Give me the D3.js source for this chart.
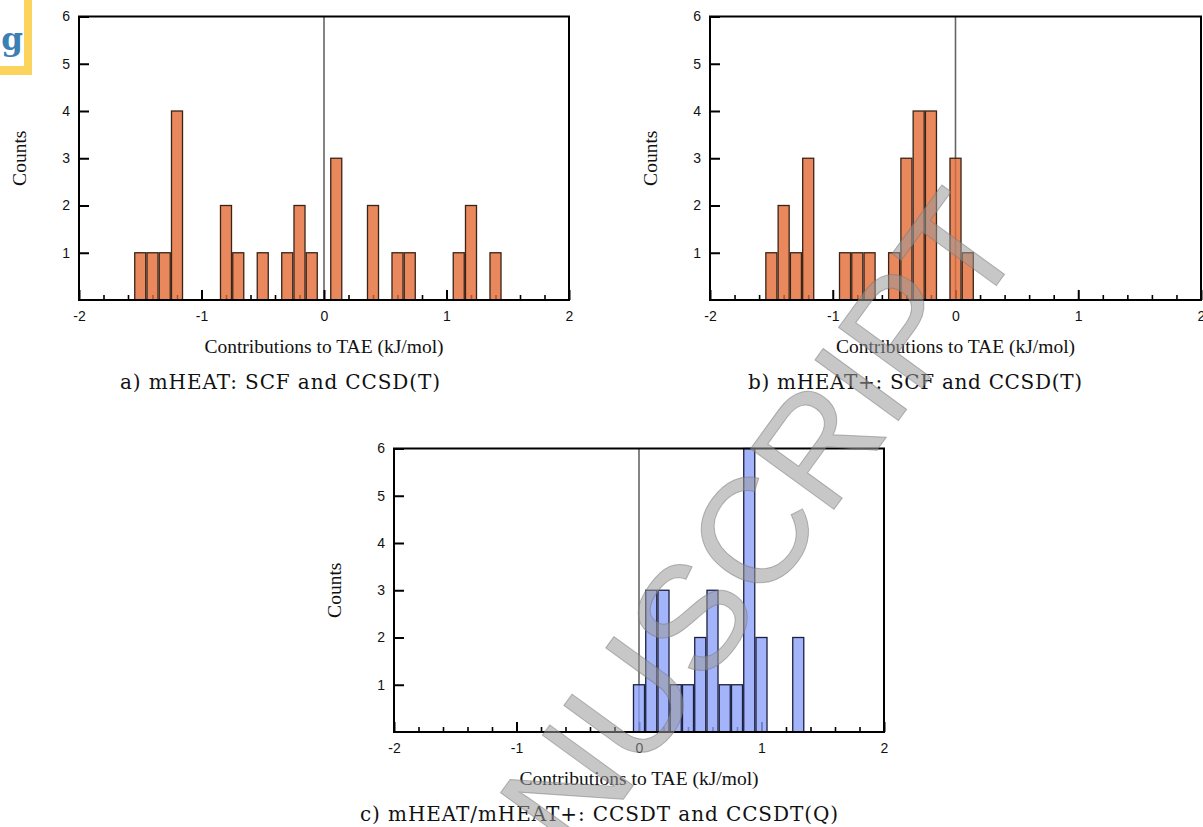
<!DOCTYPE html>
<html>
<head>
<meta charset="utf-8">
<script src="https://cdnjs.cloudflare.com/ajax/libs/d3/7.8.5/d3.min.js"></script>
<style>
  body { margin: 0; background: #fff; }
  .tick-label { font-family: "Liberation Sans", Arial, sans-serif; font-size: 14px; fill: #111; }
  .label { font-family: "Liberation Serif", "Times New Roman", serif; font-size: 19.5px; fill: #111; }
  .caption { font-family: "DejaVu Serif", serif; font-size: 20px; fill: #111; }
</style>
</head>
<body>
<svg width="1203" height="827"></svg>
<script>
// bin centres (kJ/mol) and counts
var binsA = [-1.5, -1.4, -1.3, -1.2, -0.8, -0.7, -0.5, -0.3, -0.2, -0.1, 0.1, 0.4, 0.6, 0.7, 1.1, 1.2, 1.4];
var countsA = [1, 1, 1, 4, 2, 1, 1, 1, 2, 1, 3, 2, 1, 1, 1, 2, 1];

var binsB = [-1.5, -1.4, -1.3, -1.2, -0.9, -0.8, -0.7, -0.5, -0.4, -0.3, -0.2, 0.0, 0.1];
var countsB = [1, 2, 1, 3, 1, 1, 1, 1, 3, 4, 4, 3, 1];

var binsC = [0.0, 0.1, 0.2, 0.3, 0.4, 0.5, 0.6, 0.7, 0.8, 0.9, 1.0, 1.3];
var countsC = [1, 3, 3, 1, 1, 2, 3, 1, 1, 6, 2, 2];

var xTicks = [-2, -1, 0, 1, 2];
var xMinor = [-1.8, -1.6, -1.4, -1.2, -0.8, -0.6, -0.4, -0.2, 0.2, 0.4, 0.6, 0.8, 1.2, 1.4, 1.6, 1.8];
var yTicks = [1, 2, 3, 4, 5, 6];

var binWidth = 0.09;
var fmt = d => String(d);   // plain hyphen minus, like the original

var svg = d3.select('svg');

function drawPanel(p) {
  var x = d3.scaleLinear().domain([-2, 2]).range([p.x0, p.x1]);
  var y = d3.scaleLinear().domain([0, 6]).range([p.y1, p.y0]);
  var g = svg.append('g');

  // zero line
  g.append('line')
    .attr('x1', x(0)).attr('x2', x(0))
    .attr('y1', y(6)).attr('y2', y(0))
    .attr('stroke', '#666').attr('stroke-width', 1.6);

  // ticks along the bottom and left, pointing inward
  g.append('g')
    .attr('transform', `translate(0, ${y(0)})`)
    .call(d3.axisBottom(x).tickValues(xMinor).tickSize(-5).tickFormat(''))
    .call(a => a.select('.domain').remove())
    .selectAll('line').attr('stroke', '#000').attr('stroke-width', 1.6);

  g.append('g')
    .attr('transform', `translate(0, ${y(0)})`)
    .call(d3.axisBottom(x).tickValues(xTicks).tickSize(-10).tickPadding(11).tickFormat(fmt))
    .call(a => a.select('.domain').remove())
    .call(a => a.selectAll('line').attr('stroke', '#000').attr('stroke-width', 2))
    .call(a => a.selectAll('text').attr('class', 'tick-label'));

  g.append('g')
    .attr('transform', `translate(${x(-2)}, 0)`)
    .call(d3.axisLeft(y).tickValues(yTicks).tickSize(-10).tickPadding(9).tickFormat(fmt))
    .call(a => a.select('.domain').remove())
    .call(a => a.selectAll('line').attr('stroke', '#000').attr('stroke-width', 2))
    .call(a => a.selectAll('text').attr('class', 'tick-label'));

  // bars
  g.selectAll('.bar')
    .data(p.bins.map((b, i) => ({ b: b, c: p.counts[i] })))
    .enter()
    .append('rect')
    .attr('class', 'bar')
    .attr('x', d => x(d.b - binWidth / 2))
    .attr('width', d => x(d.b + binWidth / 2) - x(d.b - binWidth / 2))
    .attr('y', d => y(d.c))
    .attr('height', d => y(0) - y(d.c))
    .attr('fill', p.fill)
    .attr('fill-opacity', 0.8)
    .attr('stroke', p.stroke)
    .attr('stroke-width', 1.3);

  // frame
  g.append('rect')
    .attr('x', x(-2)).attr('y', y(6))
    .attr('width', x(2) - x(-2)).attr('height', y(0) - y(6))
    .attr('fill', 'none').attr('stroke', '#000').attr('stroke-width', 2);

  g.append('text')
    .attr('class', 'label')
    .attr('transform', `translate(${p.x0 - 60}, ${(p.y0 + p.y1) / 2}) rotate(-90)`)
    .attr('text-anchor', 'middle')
    .attr('dy', '0.35em')
    .text('Counts');

  g.append('text')
    .attr('class', 'label')
    .attr('x', x(0))
    .attr('y', p.y1 + 53)
    .attr('text-anchor', 'middle')
    .text('Contributions to TAE (kJ/mol)');

  g.append('text')
    .attr('class', 'caption')
    .attr('x', p.capX)
    .attr('y', p.y1 + 89)
    .attr('text-anchor', 'middle')
    .attr('textLength', p.capW)
    .attr('lengthAdjust', 'spacing')
    .text(p.caption);
}

drawPanel({ x0: 79, x1: 569, y0: 16.5, y1: 300, bins: binsA, counts: countsA,
  fill: '#e26a33', stroke: '#3a2418', capX: 280, capW: 320, caption: 'a) mHEAT: SCF and CCSD(T)' });
drawPanel({ x0: 710, x1: 1201, y0: 16.5, y1: 300, bins: binsB, counts: countsB,
  fill: '#e26a33', stroke: '#3a2418', capX: 915, capW: 334, caption: 'b) mHEAT+: SCF and CCSD(T)' });
drawPanel({ x0: 394, x1: 884, y0: 448.5, y1: 732, bins: binsC, counts: countsC,
  fill: '#8da1f9', stroke: '#1c2040', capX: 599, capW: 478, caption: 'c) mHEAT/mHEAT+: CCSDT and CCSDT(Q)' });

// journal logo corner
var logo = svg.append('g');
logo.append('rect').attr('x', 24).attr('y', 0).attr('width', 8).attr('height', 75).attr('fill', '#fcd35c');
logo.append('rect').attr('x', 0).attr('y', 66).attr('width', 32).attr('height', 9).attr('fill', '#fcd35c');
logo.append('text')
  .attr('x', 12).attr('y', 50)
  .attr('text-anchor', 'middle')
  .attr('font-family', 'DejaVu Serif, serif')
  .attr('font-weight', 'bold')
  .attr('font-size', 31)
  .attr('fill', '#3b80b4')
  .text('g');

// watermark
svg.append('text')
  .attr('transform', 'translate(985, 212) rotate(-54)')
  .attr('text-anchor', 'end')
  .attr('dy', '0.35em')
  .attr('font-family', 'Liberation Sans, Arial, sans-serif')
  .attr('font-size', 150)
  .attr('fill', '#999')
  .attr('fill-opacity', 0.55)
  .attr('stroke', '#777')
  .attr('stroke-opacity', 0.5)
  .attr('stroke-width', 1)
  .text('ACCEPTED MANUSCRIPT');
</script>
</body>
</html>
